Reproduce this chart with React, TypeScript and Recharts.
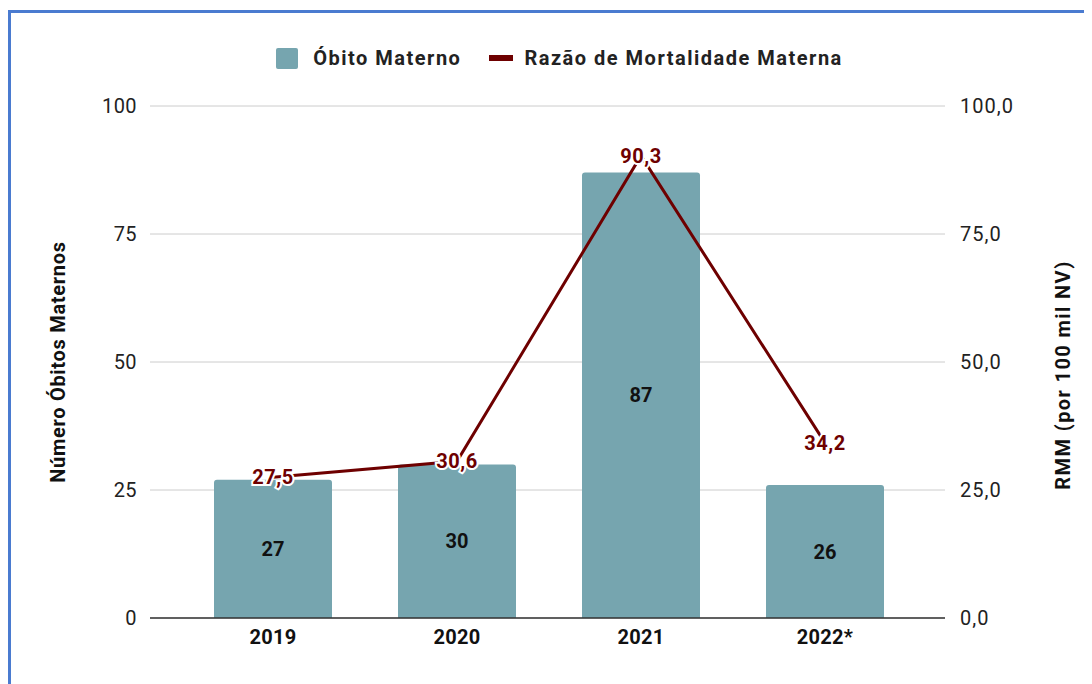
import {
  ComposedChart,
  Bar,
  Line,
  XAxis,
  YAxis,
  CartesianGrid,
  Legend,
  LabelList,
} from 'recharts';

const anos = ['2019', '2020', '2021', '2022*'];
const obitos = [27, 30, 87, 26];
const rmm = [27.5, 30.6, 90.3, 34.2];
const ticksEsq = [0, 25, 50, 75, 100];
const ticksDir = [0, 25, 50, 75, 100];

const data = anos.map((ano, i) => ({ ano, obitos: obitos[i], rmm: rmm[i] }));

const COR_BARRA = '#76a5af';
const COR_LINHA = '#6e0000';
const FONTE = 'Roboto, Arial, sans-serif';

const virgula = (v: number) => v.toFixed(1).replace('.', ',');

function Legenda() {
  return (
    <div style={{ height: 63, display: 'flex', justifyContent: 'center', alignItems: 'flex-start', paddingLeft: 6, fontFamily: FONTE }}>
      <div style={{ display: 'flex', alignItems: 'center', height: 30, fontSize: 20, fontWeight: 700, color: '#222', letterSpacing: 1.5 }}>
        <span style={{ width: 22, height: 21, background: COR_BARRA, borderRadius: 2, display: 'inline-block', marginRight: 15 }} />
        <span>Óbito Materno</span>
        <span style={{ width: 24, height: 6, background: COR_LINHA, display: 'inline-block', marginLeft: 28, marginRight: 11 }} />
        <span>Razão de Mortalidade Materna</span>
      </div>
    </div>
  );
}

// título de eixo girado (-90)
function tituloEixo(texto: string, lado: 'esq' | 'dir', espaco: number) {
  return (props: any) => {
    const vb = props.viewBox || {};
    const x = lado === 'esq' ? vb.x + 30 : vb.x + vb.width - 22;
    const y = vb.y + vb.height / 2 + (lado === 'esq' ? 0 : 13);
    return (
      <text
        x={x}
        y={y}
        transform={`rotate(-90, ${x}, ${y})`}
        textAnchor="middle"
        dominantBaseline="central"
        fontSize={20}
        fontWeight={700}
        fill="#111"
        letterSpacing={espaco}
        fontFamily={FONTE}
      >
        {texto}
      </text>
    );
  };
}

export default function App() {
  return (
    <div style={{ position: 'relative', width: 1084, height: 676 }}>
      <div
        style={{
          position: 'absolute', left: 0, top: 2, right: 0, bottom: 0,
          borderLeft: '3px solid #4a7bd0', borderTop: '3px solid #4a7bd0',
        }}
      />
      <ComposedChart
        width={1084}
        height={676}
        data={data}
        margin={{ top: 35, right: 7, bottom: 26, left: 20 }}
        style={{ position: 'absolute', left: 0, top: 0, fontFamily: FONTE }}
      >
        <CartesianGrid vertical={false} stroke="#cccccc" yAxisId="esq" />
        <Legend verticalAlign="top" content={() => <Legenda />} />
        <XAxis
          dataKey="ano"
          padding={{ left: 31, right: 28 }}
          axisLine={{ stroke: '#333', strokeWidth: 1.5 }}
          tickLine={false}
          tickSize={6}
          tickMargin={6}
          height={40}
          tick={{ fill: '#111', fontSize: 20, fontWeight: 700, letterSpacing: 0.3 }}
        />
        <YAxis
          yAxisId="esq"
          domain={[0, 100]}
          ticks={ticksEsq}
          axisLine={false}
          tickLine={false}
          width={122}
          tickSize={8}
          tickMargin={5}
          tick={{ fill: '#222', fontSize: 20, letterSpacing: 0.4 }}
          label={tituloEixo('Número Óbitos Maternos', 'esq', 0.7)}
        />
        <YAxis
          yAxisId="dir"
          orientation="right"
          domain={[0, 100]}
          ticks={ticksDir}
          tickFormatter={virgula}
          axisLine={false}
          tickLine={false}
          width={140}
          tickSize={8}
          tickMargin={7}
          tick={{ fill: '#222', fontSize: 20, letterSpacing: 1 }}
          label={tituloEixo('RMM (por 100 mil NV)', 'dir', 1.4)}
        />
        <Bar yAxisId="esq" dataKey="obitos" name="Óbito Materno" fill={COR_BARRA} barSize={118} radius={[3, 3, 0, 0]} isAnimationActive={false}>
          <LabelList dataKey="obitos" position="center" fill="#111" fontSize={20} fontWeight={700} />
        </Bar>
        <Line
          yAxisId="dir"
          dataKey="rmm"
          name="Razão de Mortalidade Materna"
          stroke={COR_LINHA}
          strokeWidth={3}
          dot={false}
          isAnimationActive={false}
        >
          <LabelList
            dataKey="rmm"
            position="center"
            formatter={(v: number) => virgula(v)}
            fill={COR_LINHA}
            fontSize={20}
            fontWeight={700}
            letterSpacing={0.5}
            stroke="#fff"
            strokeWidth={4}
            style={{ paintOrder: 'stroke' }}
          />
        </Line>
      </ComposedChart>
    </div>
  );
}
